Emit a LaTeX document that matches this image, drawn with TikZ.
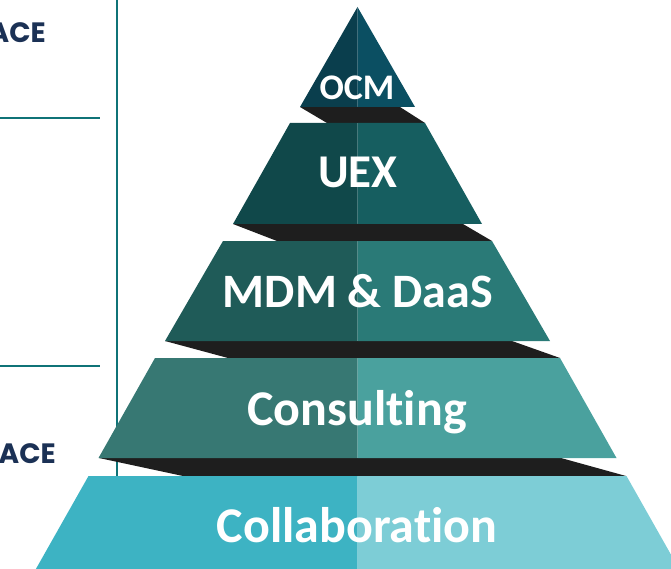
\documentclass[tikz,border=0pt]{standalone}
\usepackage{fontspec}
\setmainfont{Carlito}[Ligatures=NoCommon]
\newfontfamily\acefont{Poppins}
\usepackage{tikz}

\definecolor{ocmL}{HTML}{0A3E4D}
\definecolor{ocmR}{HTML}{0B4F62}
\definecolor{uexL}{HTML}{10484A}
\definecolor{uexR}{HTML}{165E60}
\definecolor{mdmL}{HTML}{1F5B58}
\definecolor{mdmR}{HTML}{2A7A77}
\definecolor{conL}{HTML}{377873}
\definecolor{conR}{HTML}{4AA19E}
\definecolor{colL}{HTML}{3DB3C3}
\definecolor{colR}{HTML}{7DCDD6}
\definecolor{gapshade}{HTML}{1E1E1E}
\definecolor{ruleteal}{HTML}{0F7377}
\definecolor{acenavy}{HTML}{1B3155}

% one band of the pyramid: ytop, ybot, half width top, half width bottom, left colour, right colour
\newcommand{\layerband}[6]{%
  \fill[#5] (357.5-#3,#1) -- (357.5,#1) -- (357.5,#2) -- (357.5-#4,#2) -- cycle;
  \fill[#6] (357.5,#1) -- (357.5+#3,#1) -- (357.5+#4,#2) -- (357.5,#2) -- cycle;}

\begin{document}
\begin{tikzpicture}[x=1pt,y=-1pt,
                    layer label/.style={font=\bfseries\fontsize{#1}{#1}\selectfont,text=white,anchor=base,inner sep=0pt},
                    side label/.style={font=\acefont\bfseries\fontsize{28}{28}\selectfont,text=acenavy,anchor=base east,inner sep=0pt},
                    rule/.style={draw=ruleteal,line width=2pt}]

  \useasboundingbox (0,0) rectangle (671,569);

  % frame lines on the left
  \coordinate (vtop) at (117,-2);
  \coordinate (vbot) at (117,476);
  \coordinate (h1a) at (-2,118);
  \coordinate (h1b) at (100,118);
  \coordinate (h2a) at (-2,366);
  \coordinate (h2b) at (100,366);
  \draw[rule] (vtop) -- (vbot);
  \draw[rule] (h1a) -- (h1b);
  \draw[rule] (h2a) -- (h2b);

  \node[side label] (acetop) at (46,43) {ACE};
  \node[side label] (acebot) at (56,463) {ACE};

  % dark gaps between the bands
  \fill[gapshade] (300,107) -- (400,107) -- (425,123) -- (327,123) -- cycle;
  \fill[gapshade] (233,224) -- (463,224) -- (492,241) -- (277,241) -- cycle;
  \fill[gapshade] (165,341) -- (512,341) -- (560,358) -- (228,358) -- cycle;
  \fill[gapshade] (99,458) -- (561,458) -- (626,476) -- (183,476) -- cycle;

  % the bands
  \layerband{7}{107}{0}{57.5}{ocmL}{ocmR}
  \layerband{123}{224}{67.5}{124.5}{uexL}{uexR}
  \layerband{241}{341}{134.5}{192.5}{mdmL}{mdmR}
  \layerband{358}{458}{202.5}{259}{conL}{conR}
  \layerband{476}{575}{269}{325}{colL}{colR}

  \node[layer label=36] (ocm) at (357,100) {OCM};
  \node[layer label=47] (uex) at (358,188) {UEX};
  \node[layer label=48] (mdm) at (358,307) {MDM \& DaaS};
  \node[layer label=50] (consulting) at (357,425) {Consulting};
  \node[layer label=50] (collab) at (357,542) {Collaboration};
\end{tikzpicture}
\end{document}
